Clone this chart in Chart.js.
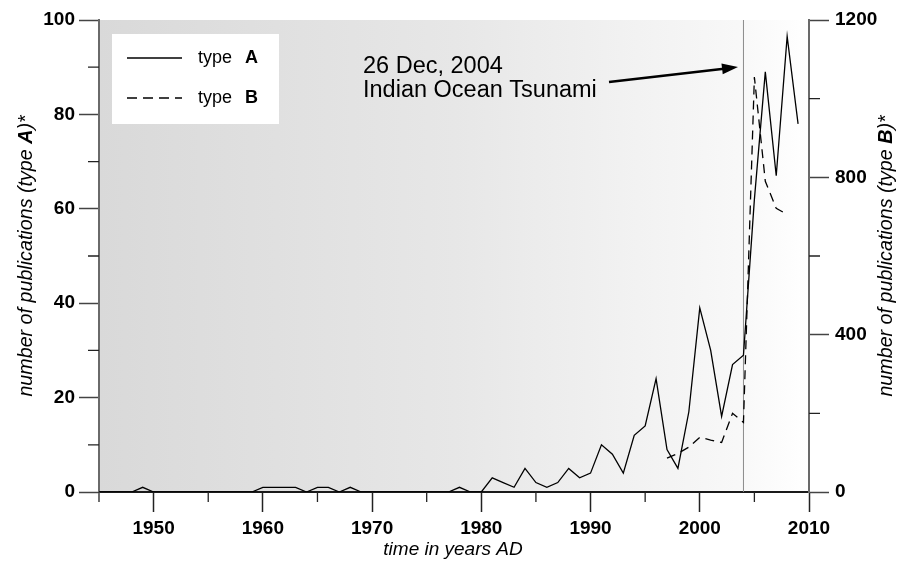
<!DOCTYPE html>
<html>
<head>
<meta charset="utf-8">
<script src="https://cdn.jsdelivr.net/npm/chart.js@4.4.1/dist/chart.umd.min.js"></script>
<style>
  html, body { margin: 0; padding: 0; background: #fff; }
  canvas { display: block; }
</style>
</head>
<body>
<canvas id="pubChart" width="898" height="563"></canvas>
<script>
// years for type A
const yearsA = [1945, 1946, 1947, 1948, 1949, 1950, 1951, 1952, 1953, 1954,
  1955, 1956, 1957, 1958, 1959, 1960, 1961, 1962, 1963, 1964,
  1965, 1966, 1967, 1968, 1969, 1970, 1971, 1972, 1973, 1974,
  1975, 1976, 1977, 1978, 1979, 1980, 1981, 1982, 1983, 1984,
  1985, 1986, 1987, 1988, 1989, 1990, 1991, 1992, 1993, 1994,
  1995, 1996, 1997, 1998, 1999, 2000, 2001, 2002, 2003, 2004,
  2005, 2006, 2007, 2008, 2009];
const typeA = [0, 0, 0, 0, 1, 0, 0, 0, 0, 0,
  0, 0, 0, 0, 0, 1, 1, 1, 1, 0,
  1, 1, 0, 1, 0, 0, 0, 0, 0, 0,
  0, 0, 0, 1, 0, 0, 3, 2, 1, 5,
  2, 1, 2, 5, 3, 4, 10, 8, 4, 12,
  14, 24, 9, 5, 17, 39, 30, 16, 27, 29,
  62, 89, 67, 96.5, 78];

const yearsB = [1997, 1998, 1999, 2000, 2001, 2002, 2003, 2004, 2005, 2006, 2007, 2008];
const typeB = [86, 98, 114, 139, 132, 126, 200, 177, 1055, 790, 721, 706];

const xTicks = [1950, 1960, 1970, 1980, 1990, 2000, 2010];
const xMinorTicks = [1945, 1955, 1965, 1975, 1985, 1995, 2005];
const yTicks = [0, 20, 40, 60, 80, 100];
const yMinorTicks = [10, 30, 50, 70, 90];
const y2Ticks = [0, 400, 800, 1200];
const y2MinorTicks = [200, 600, 1000];

const eventYear = 2004;

const FONT = "'Liberation Sans', Arial, sans-serif";

// draws text made of parts with different fonts, centred at 0,0
function drawParts(ctx, parts, size) {
  let total = 0;
  parts.forEach(p => {
    ctx.font = p[1] + ' ' + size + 'px ' + FONT;
    total += ctx.measureText(p[0]).width;
  });
  let x = -total / 2;
  ctx.textAlign = 'left';
  ctx.textBaseline = 'middle';
  parts.forEach(p => {
    ctx.font = p[1] + ' ' + size + 'px ' + FONT;
    ctx.fillText(p[0], x, 0);
    x += ctx.measureText(p[0]).width;
  });
}

const decorPlugin = {
  id: 'decor',
  beforeDraw(chart) {
    const {ctx, chartArea: a} = chart;
    const g = ctx.createLinearGradient(a.left, 0, a.right, 0);
    g.addColorStop(0, '#d9d9d9');
    g.addColorStop(0.5, '#e7e7e7');
    g.addColorStop(0.9, '#f8f8f8');
    g.addColorStop(1, '#ffffff');
    ctx.save();
    ctx.fillStyle = g;
    ctx.fillRect(a.left, a.top, a.right - a.left, a.bottom - a.top);
    ctx.restore();
  },
  beforeDatasetsDraw(chart) {
    const {ctx, chartArea: a, scales} = chart;
    const x = scales.x.getPixelForValue(eventYear);
    ctx.save();
    ctx.strokeStyle = '#8a8a8a';
    ctx.lineWidth = 1;
    ctx.beginPath();
    ctx.moveTo(x, a.top);
    ctx.lineTo(x, a.bottom);
    ctx.stroke();
    ctx.restore();
  },
  afterDraw(chart) {
    const {ctx, chartArea: a, scales} = chart;
    ctx.save();

    // minor ticks
    ctx.strokeStyle = '#222';
    ctx.lineWidth = 1.3;
    ctx.beginPath();
    xMinorTicks.forEach(v => {
      const x = scales.x.getPixelForValue(v);
      ctx.moveTo(x, a.bottom);
      ctx.lineTo(x, a.bottom + 10);
    });
    yMinorTicks.forEach(v => {
      const y = scales.y.getPixelForValue(v);
      ctx.moveTo(a.left, y);
      ctx.lineTo(a.left - 11, y);
    });
    y2MinorTicks.forEach(v => {
      const y = scales.y2.getPixelForValue(v);
      ctx.moveTo(a.right, y);
      ctx.lineTo(a.right + 11, y);
    });
    ctx.stroke();

    // axis titles
    ctx.fillStyle = '#000';
    ctx.save();
    ctx.translate(453, 550);
    drawParts(ctx, [['time in years AD', 'italic']], 19);
    ctx.restore();

    ctx.save();
    ctx.translate(27, 256);
    ctx.rotate(-Math.PI / 2);
    drawParts(ctx, [['number of publications (type ', 'italic'], ['A', 'italic bold'], [')*', 'italic']], 19.7);
    ctx.restore();

    ctx.save();
    ctx.translate(887, 256);
    ctx.rotate(-Math.PI / 2);
    drawParts(ctx, [['number of publications (type ', 'italic'], ['B', 'italic bold'], [')*', 'italic']], 19.7);
    ctx.restore();

    // legend box
    ctx.fillStyle = '#fff';
    ctx.fillRect(112, 34, 167, 90);
    ctx.strokeStyle = '#000';
    ctx.lineWidth = 1.3;
    ctx.beginPath();
    ctx.moveTo(127, 58);
    ctx.lineTo(182, 58);
    ctx.stroke();
    ctx.setLineDash([10, 6]);
    ctx.beginPath();
    ctx.moveTo(127, 98);
    ctx.lineTo(182, 98);
    ctx.stroke();
    ctx.setLineDash([]);
    ctx.fillStyle = '#000';
    ctx.textBaseline = 'middle';
    ctx.textAlign = 'left';
    [['A', 58], ['B', 98]].forEach(([k, y]) => {
      ctx.font = '18px ' + FONT;
      ctx.fillText('type', 198, y);
      ctx.font = 'bold 18px ' + FONT;
      ctx.fillText(k, 245, y);
    });

    // annotation
    ctx.font = '23.5px ' + FONT;
    ctx.textBaseline = 'alphabetic';
    ctx.fillText('26 Dec, 2004', 363, 73);
    ctx.fillText('Indian Ocean Tsunami', 363, 97);

    // arrow
    const x0 = 609, y0 = 82, x1 = 738, y1 = 67;
    const ang = Math.atan2(y1 - y0, x1 - x0);
    ctx.strokeStyle = '#000';
    ctx.lineWidth = 2.5;
    ctx.beginPath();
    ctx.moveTo(x0, y0);
    ctx.lineTo(x1 - 12 * Math.cos(ang), y1 - 12 * Math.sin(ang));
    ctx.stroke();
    ctx.beginPath();
    ctx.moveTo(x1, y1);
    ctx.lineTo(x1 - 16 * Math.cos(ang) + 5.5 * Math.sin(ang), y1 - 16 * Math.sin(ang) - 5.5 * Math.cos(ang));
    ctx.lineTo(x1 - 16 * Math.cos(ang) - 5.5 * Math.sin(ang), y1 - 16 * Math.sin(ang) + 5.5 * Math.cos(ang));
    ctx.closePath();
    ctx.fillStyle = '#000';
    ctx.fill();

    ctx.restore();
  }
};

const tickFont = {family: FONT, size: 19, weight: 'bold'};
const plain = v => String(v);

new Chart(document.getElementById('pubChart'), {
  type: 'line',
  data: {
    datasets: [{
      label: 'type A',
      data: yearsA.map((y, i) => ({x: y, y: typeA[i]})),
      borderColor: '#000',
      borderWidth: 1.3,
      pointRadius: 0,
      tension: 0,
      yAxisID: 'y'
    }, {
      label: 'type B',
      data: yearsB.map((y, i) => ({x: y, y: typeB[i]})),
      borderColor: '#000',
      borderWidth: 1.3,
      borderDash: [9, 6],
      pointRadius: 0,
      tension: 0,
      yAxisID: 'y2'
    }]
  },
  options: {
    responsive: false,
    animation: false,
    layout: {padding: {top: 20, left: 0, right: 0, bottom: 0}},
    plugins: {
      legend: {display: false},
      tooltip: {enabled: false}
    },
    scales: {
      x: {
        type: 'linear',
        position: 'bottom',
        min: 1945,
        max: 2010,
        afterBuildTicks: s => { s.ticks = xTicks.map(v => ({value: v})); },
        ticks: {font: tickFont, color: '#000', padding: 5, maxRotation: 0, autoSkip: false, callback: plain},
        grid: {drawOnChartArea: false, drawTicks: true, tickLength: 20, tickColor: '#222', tickWidth: 1.5},
        border: {color: '#1a1a1a', width: 2},
        afterFit: s => { s.height = 71; }
      },
      y: {
        position: 'left',
        min: 0,
        max: 100,
        afterBuildTicks: s => { s.ticks = yTicks.map(v => ({value: v})); },
        ticks: {font: tickFont, color: '#000', padding: 4, callback: plain},
        grid: {drawOnChartArea: false, drawTicks: true, tickLength: 20, tickColor: '#444', tickWidth: 1.5},
        border: {color: '#6a6a6a', width: 2},
        afterFit: s => { s.width = 99; }
      },
      y2: {
        position: 'right',
        min: 0,
        max: 1200,
        afterBuildTicks: s => { s.ticks = y2Ticks.map(v => ({value: v})); },
        ticks: {font: tickFont, color: '#000', padding: 6, callback: plain},
        grid: {drawOnChartArea: false, drawTicks: true, tickLength: 20, tickColor: '#444', tickWidth: 1.5},
        border: {color: '#6a6a6a', width: 2},
        afterFit: s => { s.width = 89; }
      }
    }
  },
  plugins: [decorPlugin]
});
</script>
</body>
</html>
